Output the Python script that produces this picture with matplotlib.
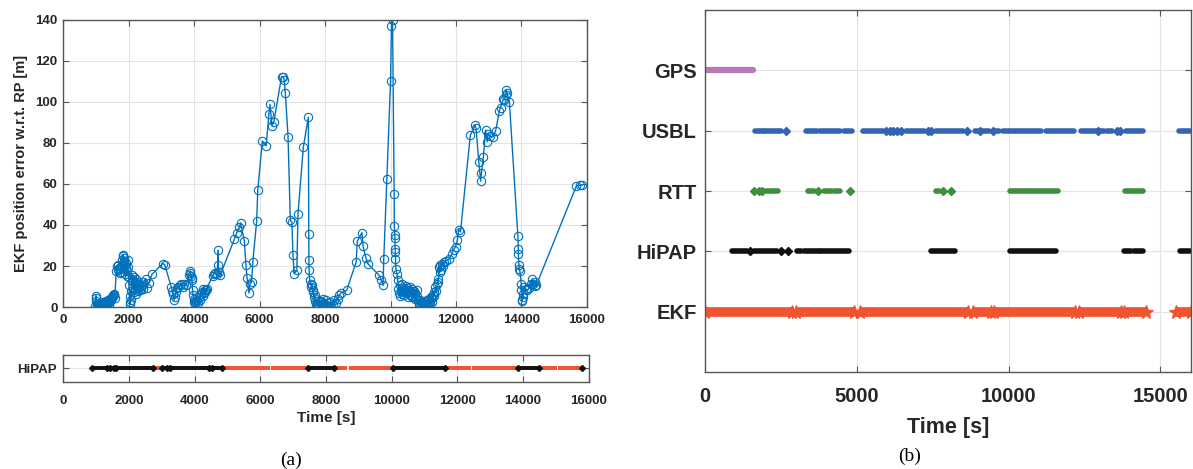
import matplotlib
matplotlib.use('Agg')
import matplotlib.pyplot as plt

plt.rcParams['font.family'] = ['Liberation Sans', 'DejaVu Sans']

# ---------------- (a) EKF position error w.r.t. RP ----------------
err_time = [
    960, 990, 1000, 1010, 1020, 1035, 1050, 1065, 1080, 1095, 1110, 1125, 1140, 1155, 1170, 1185,
    1200, 1215, 1230, 1245, 1260, 1275, 1290, 1305, 1320, 1335, 1350, 1365, 1380, 1395, 1410, 1425,
    1440, 1455, 1470, 1485, 1500, 1515, 1530, 1545, 1560, 1575,
    1620, 1640, 1660, 1680, 1700, 1720, 1740, 1760, 1780, 1800, 1815, 1830, 1845, 1860, 1875, 1890,
    1905, 1920, 1935, 1950, 1965, 1980, 1995, 2010, 2025, 2040, 2055, 2070,
    2085, 2100, 2115, 2130, 2145, 2160, 2175, 2190, 2205, 2220, 2235, 2250, 2265, 2280, 2295, 2310,
    2330, 2350, 2370, 2390, 2410, 2430, 2450,
    2515, 2560, 2610, 2715, 3040, 3100,
    3300, 3330, 3360, 3390, 3420, 3450, 3480, 3520, 3560, 3600, 3650, 3700, 3760,
    3830, 3860, 3880, 3900, 3920, 3935, 3950, 3965, 3980, 4000, 4020, 4040,
    4060, 4090, 4120, 4150, 4180, 4210, 4240, 4260, 4280, 4300, 4320, 4340, 4360, 4380,
    4563, 4610, 4650, 4700, 4738, 4740, 4760, 4797,
    5230, 5300, 5382, 5417, 5534, 5580, 5616, 5675, 5710, 5756, 5791, 5909, 5944, 6084, 6200, 6283,
    6318, 6376, 6435, 6669, 6728, 6750, 6786, 6868, 6938, 6985, 7020, 7055, 7137, 7172, 7336, 7488,
    7500, 7505, 7510, 7530,
    7560, 7580, 7600, 7620, 7640, 7660, 7680, 7700, 7720, 7740, 7760, 7780, 7800, 7830, 7860, 7890,
    7920, 7950, 7980, 8010, 8040, 8070, 8100, 8130, 8160, 8190, 8230, 8280, 8330, 8380, 8430, 8480,
    8658,
    8950, 8985, 9126, 9160, 9243, 9300, 9650, 9711, 9770, 9793, 9887, 10000, 10027, 10060, 10110, 10115,
    10130, 10135, 10140, 10145, 10150, 10160, 10200, 10220,
    10240, 10260, 10280, 10300, 10320, 10340, 10360, 10380, 10400, 10420, 10440, 10460, 10480, 10500,
    10520, 10540, 10560, 10580, 10600, 10620, 10640, 10660, 10680, 10700, 10720, 10740, 10760, 10780,
    10800, 10820, 10840,
    10860, 10880, 10900, 10920, 10940, 10960, 10980, 11000, 11020, 11040, 11060, 11080, 11100, 11120,
    11140, 11160, 11180, 11200, 11220, 11240, 11260, 11280, 11300, 11320, 11340,
    11370, 11400, 11420, 11440, 11460, 11480, 11500, 11520, 11540, 11570, 11600, 11640, 11700, 11800,
    11870, 11925, 11984, 12043, 12078, 12136, 12437, 12578, 12613, 12695, 12753, 12777, 12836, 12905,
    12952, 12980, 13040, 13127, 13210, 13327, 13360, 13444, 13480, 13514, 13537, 13560, 13630,
    13890, 13900, 13905, 13920, 13930, 13950, 13990, 14000, 14010, 14025, 14040, 14060, 14090, 14130,
    14180, 14230, 14300, 14333, 14360, 14400, 14420, 14450,
    15678, 15795, 15854,
]
err_value = [
    0.5, 3.0, 5.5, 4.2, 1.5, 0.3, 1.0, 0.2, 1.8, 0.6, 0.1, 1.2, 2.0, 0.4, 0.8, 1.6,
    0.2, 2.4, 1.0, 0.5, 1.8, 2.6, 0.8, 1.4, 3.0, 2.2, 0.6, 1.9, 3.2, 2.6, 1.2, 3.8,
    2.8, 4.2, 3.4, 5.0, 4.4, 6.0, 5.2, 6.5, 5.8, 4.5,
    17.5, 19.8, 18.2, 20.6, 19.0, 16.8, 18.5, 20.2, 17.2, 23.0, 25.6, 24.8, 22.2, 24.0, 20.5, 16.0,
    18.8, 21.5, 15.2, 17.8, 22.8, 19.6, 14.8, 10.5, 5.5, 2.4, 1.3, 3.5,
    8.0, 12.5, 15.8, 13.2, 10.0, 7.2, 14.6, 11.5, 9.0, 6.5, 13.8, 12.0, 8.6, 10.8, 7.8, 9.6,
    11.4, 8.2, 10.2, 9.0, 10.6, 8.8, 12.0,
    13.8, 9.2, 11.7, 16.0, 21.2, 20.7,
    9.8, 8.0, 6.5, 3.3, 5.0, 7.3, 9.4, 10.0, 10.6, 11.4, 10.0, 11.0, 10.5,
    15.8, 16.6, 17.6, 15.3, 14.0, 13.0, 8.1, 6.0, 4.1, 2.4, 1.3, 3.0,
    2.4, 3.3, 1.8, 4.9, 3.5, 6.2, 7.3, 5.5, 9.0, 6.8, 8.1, 7.5, 8.5, 9.0,
    15.0, 16.3, 16.6, 16.0, 27.7, 20.3, 17.0, 15.5,
    33.2, 36.1, 39.0, 41.0, 32.2, 20.7, 14.2, 6.8, 11.4, 12.2, 22.0, 41.8, 57.3, 81.0, 78.6, 94.1,
    98.8, 88.4, 90.3, 112.3, 112.3, 110.7, 104.2, 83.0, 42.3, 41.5, 25.2, 16.3, 17.9, 45.6, 78.1, 92.5,
    35.8, 22.8, 18.2, 13.0,
    11.4, 9.8, 10.8, 7.3, 8.5, 4.9, 6.0, 3.0, 1.6, 2.8, 0.8, 1.5, 0.3, 2.4, 1.3, 3.0,
    0.5, 4.0, 2.0, 1.0, 3.3, 0.4, 1.8, 0.6, 2.2, 0.2, 1.4, 3.3, 2.0, 4.0, 5.7, 6.8,
    8.1,
    22.0, 32.2, 36.3, 29.6, 24.1, 21.2, 15.5, 13.3, 10.6, 23.6, 62.3, 110.4, 137.2, 140.0, 55.0, 39.4,
    35.0, 33.9, 28.5, 26.9, 23.6, 18.7, 16.0, 13.0,
    9.0, 7.0, 5.5, 10.5, 8.0, 6.2, 11.0, 9.2, 7.5, 5.8, 8.8, 10.2, 6.8, 9.4,
    7.2, 5.0, 8.4, 9.8, 6.0, 7.8, 4.8, 9.0, 6.6, 5.4, 8.0, 3.8, 6.8, 4.5,
    8.5, 5.6, 3.2,
    2.0, 0.8, 3.5, 1.5, 0.3, 2.5, 0.6, 1.8, 0.2, 1.2, 2.8, 0.5, 1.6, 3.4,
    0.9, 2.2, 4.0, 1.5, 3.0, 5.0, 2.5, 4.2, 6.0, 7.5, 5.5,
    9.8, 8.0, 11.0, 13.8, 12.0, 19.5, 17.0, 20.3, 18.0, 21.2, 20.0, 22.0, 22.5, 23.6,
    25.7, 28.0, 29.3, 32.6, 37.8, 36.6, 83.8, 88.7, 87.1, 70.8, 61.4, 65.4, 73.3, 86.3,
    80.6, 84.3, 83.3, 83.0, 86.0, 95.6, 97.3, 101.4, 101.0, 103.4, 105.8, 104.2, 100.1,
    34.5, 28.5, 25.7, 20.3, 18.7, 17.5, 11.4, 8.1, 3.6, 2.8, 5.0, 6.5, 9.8, 8.8,
    8.1, 9.4, 11.0, 13.8, 11.1, 10.1, 12.0, 10.5,
    59.1, 59.4, 59.4,
]

# HiPAP availability strip under (a): red = EKF aided, black = HiPAP fixes
strip_red_intervals = [(1600, 6290), (6330, 8650), (8690, 12410), (12450, 15030), (15060, 15800)]
strip_black_intervals = [(880, 1345), (1430, 1550), (1600, 2740), (3000, 3150), (3260, 4450),
                         (4530, 4840), (7445, 8250), (10050, 11630), (13835, 14480)]
strip_black_points = [15800]

# ---------------- (b) sensor availability ----------------
sensor_names = ['EKF', 'HiPAP', 'RTT', 'USBL', 'GPS']
sensor_rows = [1, 2, 3, 4, 5]

gps_intervals = [(0, 1570)]

usbl_intervals = [(1660, 1930), (1990, 2490), (3315, 3680), (3790, 4455), (4565, 4830),
                  (5215, 5450), (5500, 5700), (5760, 5850), (6630, 7215), (7625, 8510),
                  (8895, 8990), (9150, 9340), (9580, 9700), (9830, 10530), (10610, 11080),
                  (11240, 12155), (12375, 12780), (12860, 13150), (13240, 13420), (13870, 14440),
                  (15615, 15970)]
usbl_points = [2652, 5950, 6080, 6200, 6330, 6465, 7330, 7450, 8620, 9060, 9480, 12950, 13560, 13680]

rtt_intervals = [(2010, 2400), (3390, 3590), (3925, 4165), (4255, 4455), (7625, 7700),
                 (10055, 10500), (10555, 11635), (13845, 14440)]
rtt_points = [1604, 1770, 1880, 3725, 4775, 7850, 8100]

hipap_intervals = [(885, 1380), (1604, 2375), (3017, 3150), (3260, 3790), (3835, 4750),
                   (7460, 8230), (10055, 11570), (13813, 14035), (14145, 14440), (15660, 15970)]
hipap_points = [1470, 2487, 2730]

ekf_intervals = [(0, 2860), (2990, 4920), (5115, 8675), (8840, 9425), (9535, 12190),
                 (12320, 13700), (13810, 14530), (15530, 16000)]

# ---------------- colours ----------------
c_err = '#0072BD'
c_ekf = '#F0532D'
c_usbl = '#3364B3'
c_rtt = '#3D8F3D'
c_hipap = '#111111'
c_gps = '#B57AB5'
c_txt = '#262626'
c_spine = '#555555'
c_grid = '#E3E3E3'

fig = plt.figure(figsize=(11.93, 4.69), dpi=100)


def style_axes(ax, labelsize):
    for s in ax.spines.values():
        s.set_color(c_spine)
        s.set_linewidth(1.0)
    ax.tick_params(direction='in', top=True, right=True, length=4, width=0.8,
                   color=c_spine, labelcolor=c_txt, labelsize=labelsize)
    for lab in ax.get_xticklabels() + ax.get_yticklabels():
        lab.set_fontweight('bold')
    ax.set_axisbelow(True)


# ---- (a) top
ax1 = fig.add_axes([0.053, 0.3454, 0.439, 0.612])
ax1.plot(err_time, err_value, '-o', color=c_err, lw=1.0, ms=6.0, mfc='none', mew=0.8)
ax1.set_xlim(0, 16000)
ax1.set_ylim(0, 140)
ax1.set_xticks(range(0, 16001, 2000))
ax1.set_yticks(range(0, 141, 20))
ax1.grid(True, color=c_grid, lw=0.8)
style_axes(ax1, 9.5)
ax1.tick_params(axis='x', pad=5)
ax1.tick_params(axis='y', pad=4)
ax1.set_ylabel('EKF position error w.r.t. RP [m]', fontsize=10.5, fontweight='bold',
               color=c_txt, labelpad=5)

# ---- (a) bottom strip
ax2 = fig.add_axes([0.053, 0.1855, 0.4405, 0.0576])
for a, b in strip_red_intervals:
    ax2.hlines(1, a, b, colors=c_ekf, lw=2.8)
for a, b in strip_black_intervals:
    ax2.hlines(1, a, b, colors=c_hipap, lw=2.8, capstyle='round')
    ax2.plot([a, b], [1, 1], 'D', color=c_hipap, ms=3)
ax2.plot(strip_black_points, [1] * len(strip_black_points), 'D', color=c_hipap, ms=3)
ax2.set_xlim(0, 16000)
ax2.set_ylim(0.5, 1.5)
ax2.set_xticks(range(0, 16001, 2000))
ax2.set_yticks([1])
ax2.set_yticklabels(['HiPAP'])
ax2.grid(True, color=c_grid, lw=0.8)
style_axes(ax2, 9.5)
ax2.tick_params(axis='x', pad=9)
ax2.tick_params(axis='y', pad=5)
ax2.set_xlabel('Time [s]', fontsize=11, fontweight='bold', color=c_txt, labelpad=3)

# ---- (b)
ax3 = fig.add_axes([0.591, 0.2068, 0.407, 0.7719])
for a, b in ekf_intervals:
    ax3.hlines(sensor_rows[0], a, b, colors=c_ekf, lw=7)
    ax3.plot([a, b], [sensor_rows[0]] * 2, '*', color=c_ekf, ms=10, mew=0.8)
for a, b in hipap_intervals:
    ax3.hlines(sensor_rows[1], a, b, colors=c_hipap, lw=4, capstyle='round')
ax3.plot(hipap_points, [sensor_rows[1]] * len(hipap_points), 'D', color=c_hipap, ms=4)
for a, b in rtt_intervals:
    ax3.hlines(sensor_rows[2], a, b, colors=c_rtt, lw=4, capstyle='round')
ax3.plot(rtt_points, [sensor_rows[2]] * len(rtt_points), 'D', color=c_rtt, ms=4)
for a, b in usbl_intervals:
    ax3.hlines(sensor_rows[3], a, b, colors=c_usbl, lw=4, capstyle='round')
ax3.plot(usbl_points, [sensor_rows[3]] * len(usbl_points), 'D', color=c_usbl, ms=4)
for a, b in gps_intervals:
    ax3.hlines(sensor_rows[4], a, b, colors=c_gps, lw=4.5, capstyle='round')
ax3.set_xlim(0, 16000)
ax3.set_ylim(0, 6)
ax3.set_xticks([0, 5000, 10000, 15000])
ax3.set_yticks(sensor_rows)
ax3.set_yticklabels(sensor_names)
ax3.grid(True, color=c_grid, lw=0.8)
style_axes(ax3, 14.5)
ax3.tick_params(axis='x', pad=11)
ax3.tick_params(axis='y', pad=6)
ax3.set_xlabel('Time [s]', fontsize=15.5, fontweight='bold', color=c_txt, labelpad=8)

fig.text(0.244, 0.019, '(a)', family=['Liberation Serif', 'DejaVu Serif'], fontsize=14,
         ha='center', va='center', color='black')
fig.text(0.762, 0.026, '(b)', family=['Liberation Serif', 'DejaVu Serif'], fontsize=14,
         ha='center', va='center', color='black')

fig.savefig('out.png', dpi=100)
